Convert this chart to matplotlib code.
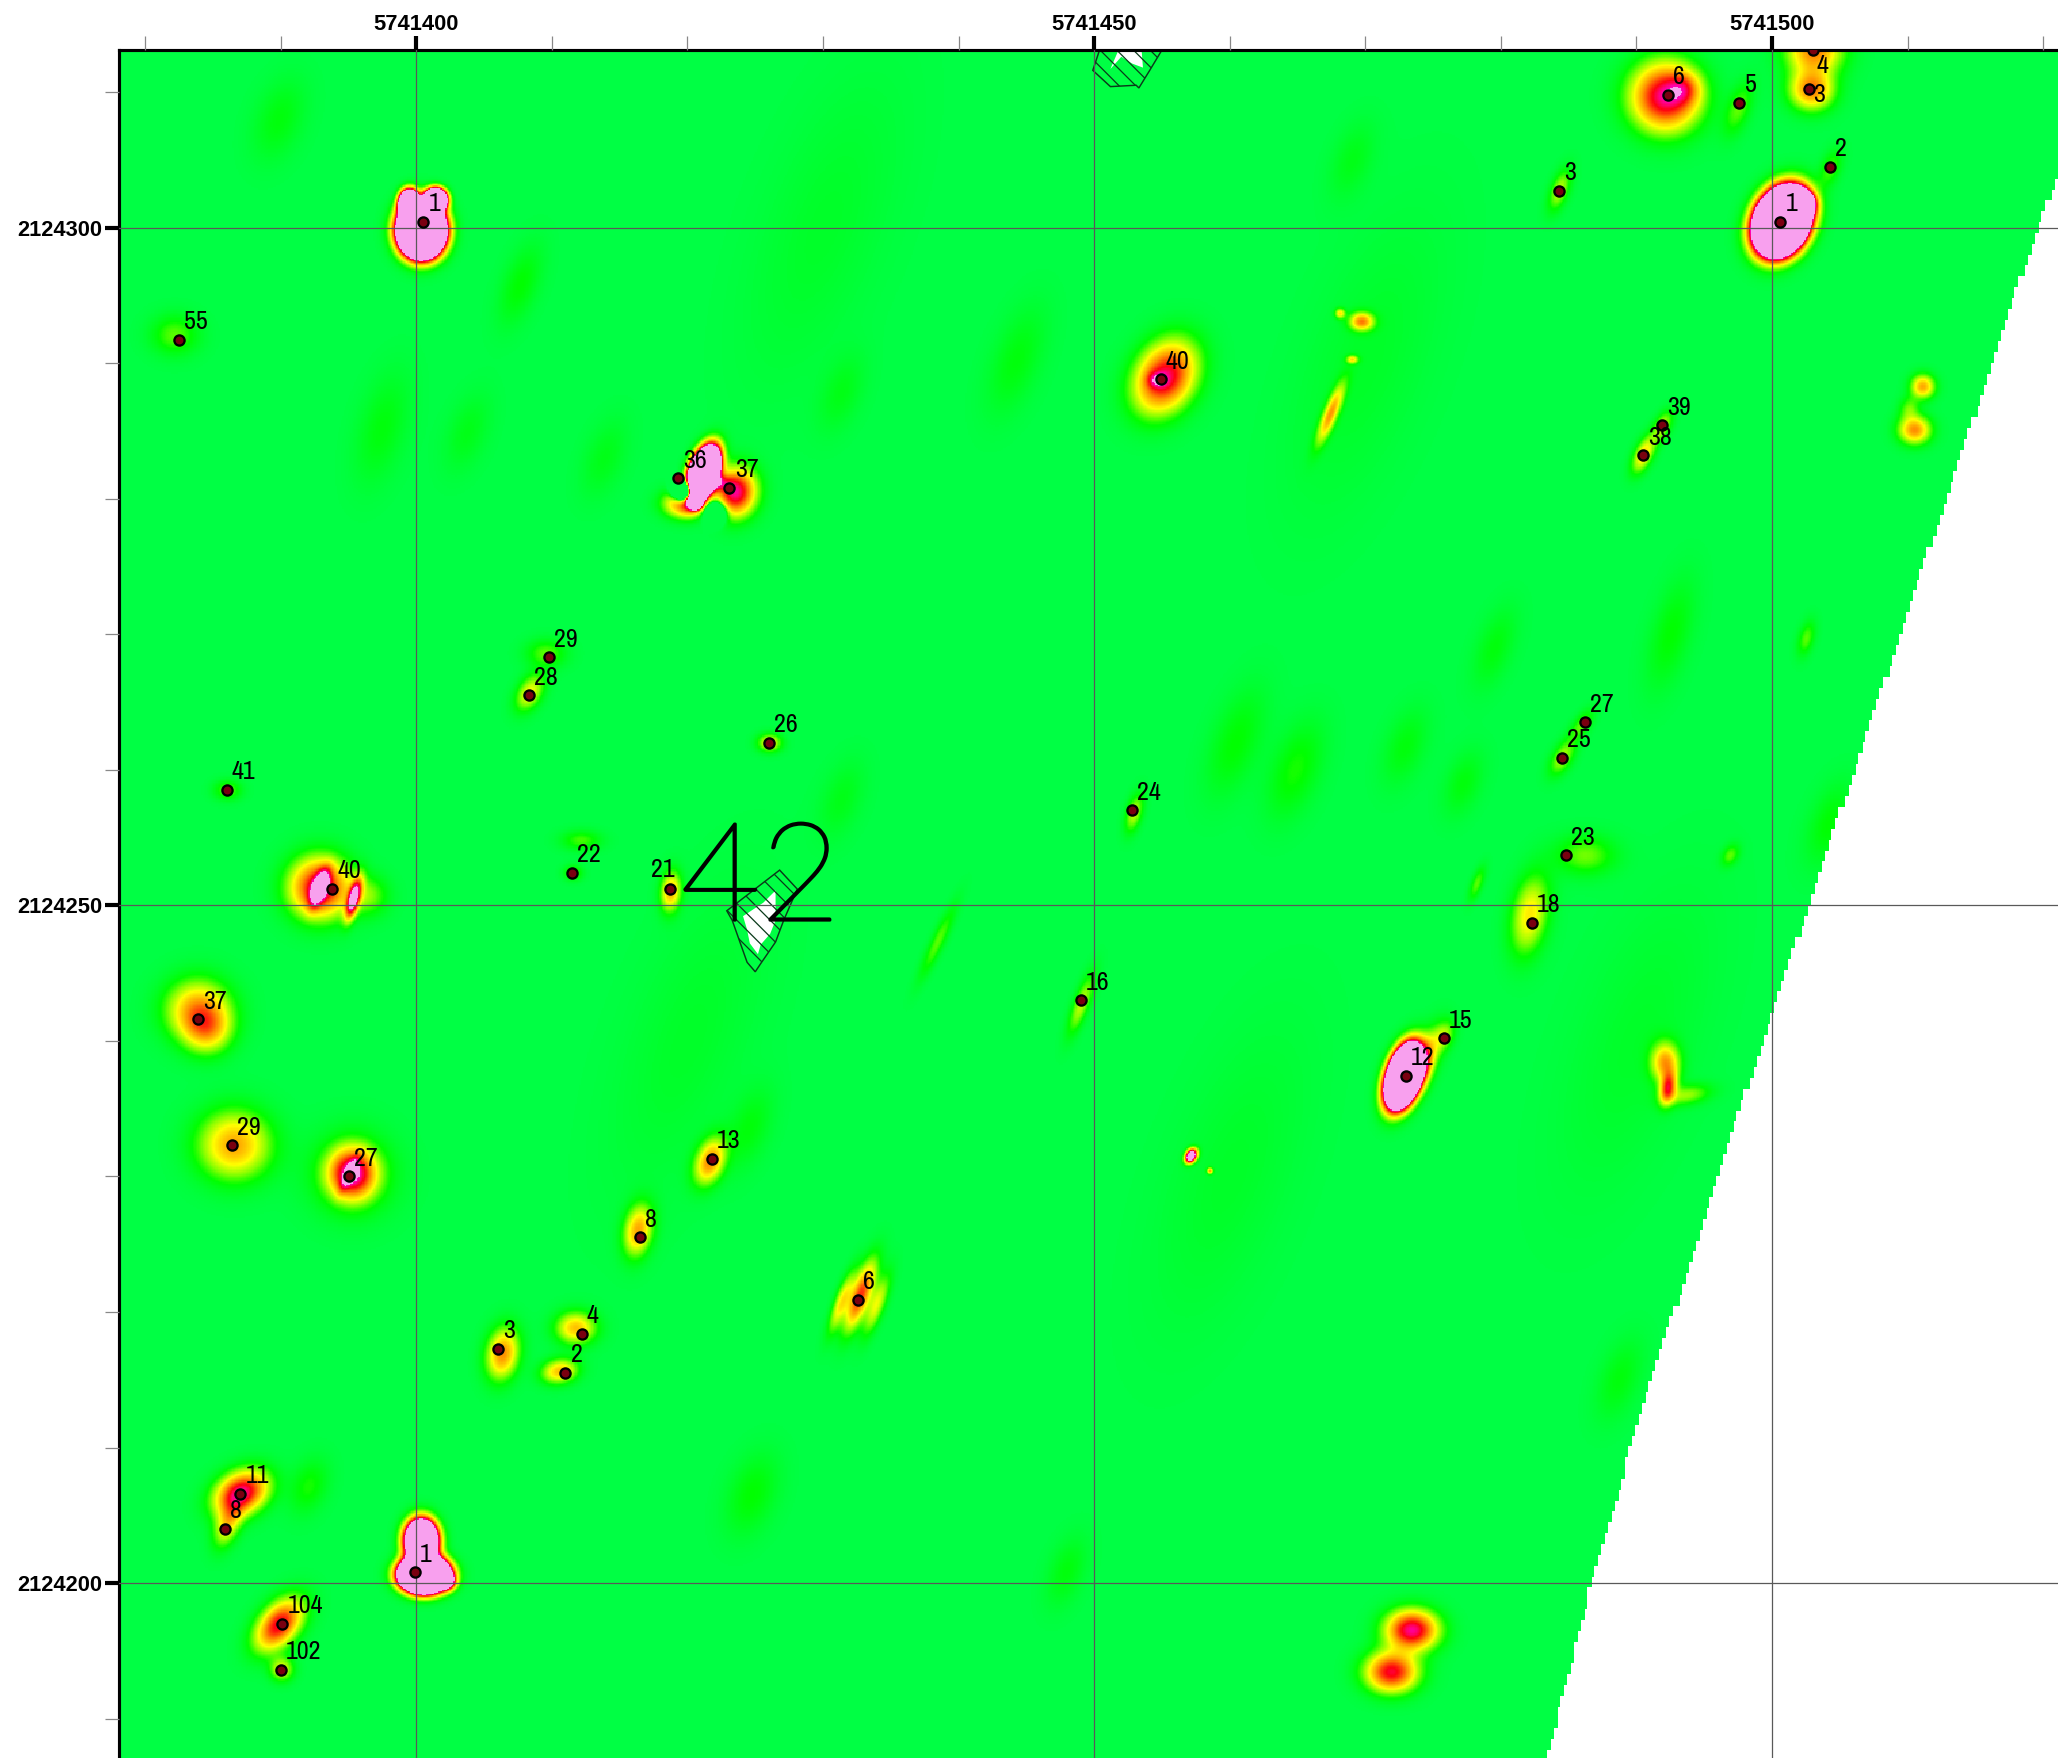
#!/usr/bin/env python3

import numpy as np
import matplotlib
matplotlib.use("Agg")
import matplotlib.pyplot as plt
import matplotlib.patheffects as pe
from matplotlib import font_manager
from matplotlib.colors import LinearSegmentedColormap
from matplotlib.patches import Polygon
from matplotlib.ticker import MultipleLocator, FormatStrFormatter

# all map positions below are offsets from these two
EAST0 = 5741400
NORTH0 = 2124200

# target picks
pick_labels = ["1", "55", "1", "2", "3", "4", "5", "6", "3", "40", "39", "38", "36", "37",
               "29", "28", "26", "41", "27", "25", "24", "23", "22", "21", "40", "18",
               "16", "37", "15", "12", "29", "13", "27", "8", "6", "4", "3", "2", "11",
               "8", "1", "104", "102"]
pick_east = [0.5, -17.5, 100.6, 104.3, 102.7, 103.0, 97.6, 92.3, 84.3, 54.9, 91.9, 90.5, 19.3, 23.1,
             9.8, 8.3, 26.0, -14.0, 86.2, 84.5, 52.8, 84.8, 11.5, 18.7, -6.2, 82.3,
             49.0, -16.1, 75.8, 73.0, -13.6, 21.8, -5.0, 16.5, 32.6, 12.2, 6.0, 11.0, -13.0,
             -14.1, -0.1, -9.9, -10.0]
pick_north = [100.4, 91.7, 100.4, 104.5, 110.2, 113.1, 109.2, 109.8, 102.7, 88.8, 85.4, 83.2, 81.5, 80.8,
              68.3, 65.5, 62.0, 58.5, 63.5, 60.9, 57.0, 53.7, 52.4, 51.2, 51.2, 48.7,
              43.0, 41.6, 40.2, 37.4, 32.3, 31.3, 30.0, 25.5, 20.9, 18.4, 17.3, 15.5, 6.6,
              4.0, 0.8, -3.0, -6.4]

# anomalies of the grid: centre, spreads, rotation, strength
blob_east = [0.3, 1.35, -0.6, 92.1, 97.5, 102.9, 103.1, 104.3, 100.7, 101.8, 84.3, -17.9,
             55.2, 54.6, 69.7, 68.1, 69.0, 67.4, 111.1, 110.5, 110.1, 91.9, 90.5,
             21.1, 20.5, 19.7, 23.5, 19.7, 22.3, 9.5, 8.3, 26.0, -14.0, 85.9, 84.5,
             52.9, 86.2, 82.1, 12.1, 11.5, 18.7, -7.2, -7.2, -4.7, -3.6, 38.4, 49.0,
             -16.2, -15.5, 75.8, 72.8, 74.3, -13.5, 21.6, -4.8, -5.0, -4.8, 57.1, 58.5,
             16.3, 32.7, 31.3, 33.9, 11.7, 6.3, 10.5, -13.0, -14.0, 0.3, 0.5, 2.2,
             -10.2, -10.0, 73.4, 71.9, 92.1, 92.3, 93.7, 102.5, 96.9, 78.2,
             -10.2, 7.6, -2.6, 44.2, 60.4, 64.8, 92.5, 79.5, 77.2, 24.5, -8.0, 24.7, 47.9, 88.7, 104.2,
             13.8, 3.7, 72.9, 31.3, 69.0, 31.3, 93.5, 22.0,
             20.0, 60.0, 70.0, 30.0, 90.0]
blob_north = [99.85, 102.1, 101.8, 109.7, 108.8, 110.2, 113.1, 104.4, 100.5, 101.8, 102.8, 92.1,
              89.0, 88.8, 93.1, 93.7, 90.3, 86.3, 88.3, 85.1, 86.7, 85.4, 83.3,
              81.9, 79.8, 79.7, 80.5, 80.6, 81.2, 68.6, 65.7, 62.0, 58.5, 63.3, 60.9,
              56.8, 53.7, 49.3, 54.8, 52.4, 51.0, 51.3, 51.3, 50.5, 50.7, 47.3, 42.7,
              42.3, 40.8, 40.4, 37.4, 38.4, 32.3, 31.1, 30.2, 30.2, 30.2, 31.5, 30.4,
              26.0, 21.2, 20.7, 20.5, 18.8, 16.9, 15.6, 6.6, 4.3, 3.1, 0.6, 0.1,
              -3.1, -6.4, -3.5, -6.6, 38.4, 36.5, 36.0, 69.7, 53.7, 51.6,
              108.0, 95.8, 85.2, 90.2, 62.0, 60.0, 70.0, 69.0, 59.0, 33.5, 7.1, 6.5, 0.8, 15.0, 56.0,
              83.0, 84.9, 61.7, 57.8, 105.0, 87.8, 110.3, 79.0,
              40.0, 30.0, 90.0, 100.0, 40.0]
blob_major = [0.9, 0.45, 0.4, 1.7, 1.4, 1.1, 1.4, 1.0, 1.35, 0.6, 1.1, 1.2,
              1.9, 0.5, 0.6, 0.25, 0.3, 1.6, 0.6, 0.8, 0.6, 0.8, 1.0,
              1.1, 0.3, 1.0, 1.2, 0.5, 0.6, 1.0, 1.0, 0.6, 0.7, 0.9, 1.0,
              1.0, 1.5, 2.0, 1.0, 0.5, 1.0, 1.5, 0.9, 1.0, 1.0, 2.0, 1.6,
              1.5, 1.2, 0.8, 1.3, 1.6, 1.8, 1.2, 1.1, 0.9, 2.0, 0.35, 0.15,
              1.3, 1.8, 1.6, 1.6, 1.0, 1.3, 0.9, 1.4, 1.2, 0.9, 0.95, 0.4,
              1.5, 0.6, 1.3, 1.3, 1.0, 0.8, 1.2, 0.9, 0.6, 0.9,
              2.1, 2.1, 2.8, 2.8, 2.8, 2.5, 2.8, 2.1, 1.7, 2.1, 1.4, 2.1, 1.8, 2.1, 2.1,
              2.0, 2.0, 2.0, 2.0, 2.0, 2.0, 0.8, 0.5,
              8.0, 8.0, 8.0, 8.0, 8.0]
blob_minor = [1.05, 0.45, 0.55, 1.7, 0.6, 1.0, 1.2, 0.5, 1.0, 0.5, 0.45, 1.0,
              1.4, 0.4, 0.45, 0.25, 0.2, 0.35, 0.6, 0.7, 0.5, 0.4, 0.45,
              0.55, 0.3, 0.7, 1.0, 0.5, 0.4, 0.7, 0.6, 0.45, 0.5, 0.4, 0.5,
              0.4, 1.0, 0.9, 0.5, 0.4, 0.5, 1.5, 0.35, 0.3, 1.0, 0.35, 0.4,
              1.6, 1.2, 0.5, 0.65, 0.6, 1.7, 0.7, 1.2, 0.25, 2.0, 0.25, 0.15,
              0.7, 0.5, 0.35, 0.4, 0.8, 0.8, 0.6, 1.0, 0.6, 0.7, 0.7, 0.4,
              0.9, 0.6, 1.0, 1.0, 0.7, 0.4, 0.5, 0.4, 0.4, 0.3,
              1.2, 0.9, 1.2, 1.2, 1.2, 1.2, 1.0, 0.9, 0.9, 1.0, 0.9, 1.2, 0.9, 1.0, 1.0,
              1.0, 1.0, 1.0, 1.0, 1.0, 1.0, 0.8, 0.5,
              3.0, 3.0, 3.0, 3.0, 3.0]
blob_angle = [0, 0, 0, 0, 70, 0, 0, 70, 65, 0, 70, 0,
              60, 0, 0, 0, 0, 68, 0, 0, 80, 65, 65,
              70, 0, 0, 80, 0, 0, 0, 60, 0, 0, 55, 60,
              75, 0, 80, 0, 0, 85, 0, 70, 75, 0, 65, 70,
              90, 0, 70, 72, 70, 0, 70, 0, 65, 0, 60, 0,
              80, 70, 70, 70, 0, 80, 10, 30, 70, 90, 0, 0,
              50, 0, 0, 0, 90, 80, 10, 75, 60, 70,
              70, 70, 75, 70, 70, 70, 75, 70, 70, 70, 70, 70, 70, 70, 70,
              70, 70, 70, 70, 70, 70, 0, 0,
              70, 70, 70, 70, 70]
blob_amp = [10, 6, 6, 0.95, 0.2, 0.62, 0.62, 0.18, 10, 6, 0.3, 0.2,
            0.9, 0.3, 0.6, 0.4, 0.4, 0.55, 0.55, 0.6, 0.2, 0.3, 0.45,
            8, 3, 0.7, 0.95, -2, 0.4, 0.2, 0.38, 0.38, 0.2, 0.2, 0.28,
            0.3, 0.22, 0.42, 0.18, 0.18, 0.52, 0.9, 1.0, 1.1, 0.22, 0.2, 0.3,
            0.55, 0.4, 0.25, 8, 0.5, 0.55, 0.6, 0.85, 0.4, 0.25, 1.8, 0.5,
            0.55, 0.75, 0.4, 0.35, 0.5, 0.6, 0.5, 0.95, 0.4, 5, 10, 1,
            0.85, 0.35, 0.95, 0.85, 0.55, 0.7, 0.25, 0.2, 0.2, 0.2,
            0.1, 0.12, 0.1, 0.1, 0.12, 0.14, 0.12, 0.1, 0.1, 0.1, 0.14, 0.12, 0.1, 0.1, 0.12,
            0.08, 0.08, 0.1, 0.08, 0.08, 0.08, 0.3, -1.0,
            0.05, 0.05, 0.05, 0.05, 0.05]

# hatched no-data pockets
pocket_one_east = [22.9, 26.8, 28.1, 27.1, 26.5, 25.4, 25.0, 24.4, 23.3]
pocket_one_north = [49.6, 52.6, 51.2, 48.9, 47.3, 45.7, 45.1, 45.8, 48.9]
hole_one_east = [26.5, 26.5, 26.1, 25.4, 25.2, 24.6, 24.4, 24.1, 25.0, 25.6]
hole_one_north = [51.1, 48.9, 47.9, 47.1, 46.4, 47.2, 48.2, 49.2, 49.8, 50.2]
pocket_two_east = [50.4, 49.9, 51.2, 53.1, 53.3, 54.1, 55.0]
pocket_two_north = [113.1, 111.6, 110.4, 110.5, 110.3, 111.6, 113.1]
hole_two_east = [51.8, 53.5, 53.6, 52.8, 52.0, 51.2]
hole_two_north = [113.1, 113.1, 111.8, 112.1, 112.6, 111.7]

# right hand limit of the survey, edge east for each north
edge_north = [-14.0, -12.9, 0.0, 13.5, 42.7, 50.0, 100.0, 106.0]
edge_east = [83.2, 83.4, 86.7, 90.6, 100.2, 102.7, 119.6, 122.0]

# picks whose number sits somewhere else than up and right
label_shift = {4: (2, -8), 5: (2, -13), 23: (-9, 4)}


def build_grid(east, north):
    """Sum the anomalies on the survey grid"""
    ee, nn = np.meshgrid(east, north)
    grid = np.zeros_like(ee)
    for cx, cy, sa, sb, ang, amp in zip(blob_east, blob_north, blob_major, blob_minor, blob_angle, blob_amp):
        t = np.radians(ang)
        u = (ee - cx) * np.cos(t) + (nn - cy) * np.sin(t)
        v = -(ee - cx) * np.sin(t) + (nn - cy) * np.cos(t)
        grid += amp * np.exp(-0.5 * ((u / sa) ** 2 + (v / sb) ** 2))
    # the edge of the survey is stepped, like the original cells
    row_n = np.round(nn / 0.8) * 0.8
    limit = np.interp(row_n, edge_north, edge_east)
    return np.ma.masked_where(np.round(ee / 0.25) * 0.25 > limit, grid)


def narrow_family():
    """First narrow face that this machine has, else plain Liberation Sans"""
    names = {f.name for f in font_manager.fontManager.ttflist}
    for name in sorted(names):
        if "narrow" in name.lower():
            return name
    for name in sorted(names):
        if "condensed" in name.lower():
            return name
    return "Liberation Sans"


plt.rcParams['font.family'] = ['Liberation Sans']
plt.rcParams['hatch.linewidth'] = 0.6

fig = plt.figure(figsize=(13.72, 11.72), dpi=150)
ax = fig.add_axes([118.5 / 2058, 0, 1 - 118.5 / 2058, 1 - 50 / 1758])

cmap = LinearSegmentedColormap.from_list("anomaly", [
    (0.0, "#00ff44"), (0.12, "#00ff00"), (0.24, "#88ff00"), (0.38, "#ffff00"),
    (0.6, "#ff9000"), (0.82, "#ff0010"), (1.0, "#ff00c0")])
cmap.set_over("#f8a0ee")
cmap.set_under("#00ff44")
cmap.set_bad("white")

east = np.arange(-22.0, 121.2, 0.1)
north = np.arange(-13.0, 113.2, 0.1)
ax.imshow(build_grid(east, north), extent=[east[0] + EAST0, east[-1] + EAST0, north[0] + NORTH0, north[-1] + NORTH0],
          origin="lower", aspect="auto", cmap=cmap, vmin=0, vmax=1, interpolation="nearest", zorder=1)

for pe_x, pe_y, ho_x, ho_y in [(pocket_one_east, pocket_one_north, hole_one_east, hole_one_north),
                               (pocket_two_east, pocket_two_north, hole_two_east, hole_two_north)]:
    ax.add_patch(Polygon(np.c_[np.array(pe_x) + EAST0, np.array(pe_y) + NORTH0], fc="#00ff44", ec="none", zorder=2))
    ax.add_patch(Polygon(np.c_[np.array(ho_x) + EAST0, np.array(ho_y) + NORTH0], fc="white", ec="none", zorder=2.1))
    ax.add_patch(Polygon(np.c_[np.array(pe_x) + EAST0, np.array(pe_y) + NORTH0], fc="none", ec="#0a3a1a",
                         hatch="\\\\\\", lw=0.7, zorder=2.2))

ax.text(25.4 + EAST0, 48.9 + NORTH0, "42", family=["Lato", "Liberation Sans"], fontweight=100, fontsize=66, color="black",
        ha="center", va="baseline", zorder=4,
        path_effects=[pe.withStroke(linewidth=1.3, foreground="black")])

ax.scatter(np.array(pick_east) + EAST0, np.array(pick_north) + NORTH0, s=24, c="#7a0010", edgecolors="black",
           linewidths=1.1, zorder=5)
label_family = narrow_family()
for i, (lab, px, py) in enumerate(zip(pick_labels, pick_east, pick_north)):
    ax.annotate(lab, (px + EAST0, py + NORTH0), xytext=label_shift.get(i, (2.5, 3.2)), textcoords="offset points",
                fontsize=12.5, family=[label_family, "Liberation Sans"], color="black",
                ha="left", va="bottom", zorder=6)

ax.set_xlim(EAST0 - 21.97, EAST0 + 121.1)
ax.set_ylim(NORTH0 - 12.9, NORTH0 + 113.1)

ax.xaxis.set_major_locator(MultipleLocator(50))
ax.xaxis.set_minor_locator(MultipleLocator(10))
ax.yaxis.set_major_locator(MultipleLocator(50))
ax.yaxis.set_minor_locator(MultipleLocator(10))
ax.xaxis.set_major_formatter(FormatStrFormatter("%d"))
ax.yaxis.set_major_formatter(FormatStrFormatter("%d"))
ax.xaxis.tick_top()

ax.tick_params(which="major", length=6.5, width=2.0, color="black", labelsize=10.5)
ax.tick_params(axis="x", which="major", pad=0.6)
ax.tick_params(axis="y", which="major", pad=1.2)
ax.tick_params(which="minor", length=6.5, width=0.6, color="#888888")
for lab in ax.get_xticklabels() + ax.get_yticklabels():
    lab.set_fontweight("bold")

ax.set_axisbelow(False)
ax.grid(which="major", color=(0.35, 0.35, 0.35, 0.45), lw=0.6, zorder=3)

for side in ("right", "bottom"):
    ax.spines[side].set_visible(False)
for side in ("left", "top"):
    ax.spines[side].set_linewidth(1.5)

fig.savefig("out.png", dpi=150)
